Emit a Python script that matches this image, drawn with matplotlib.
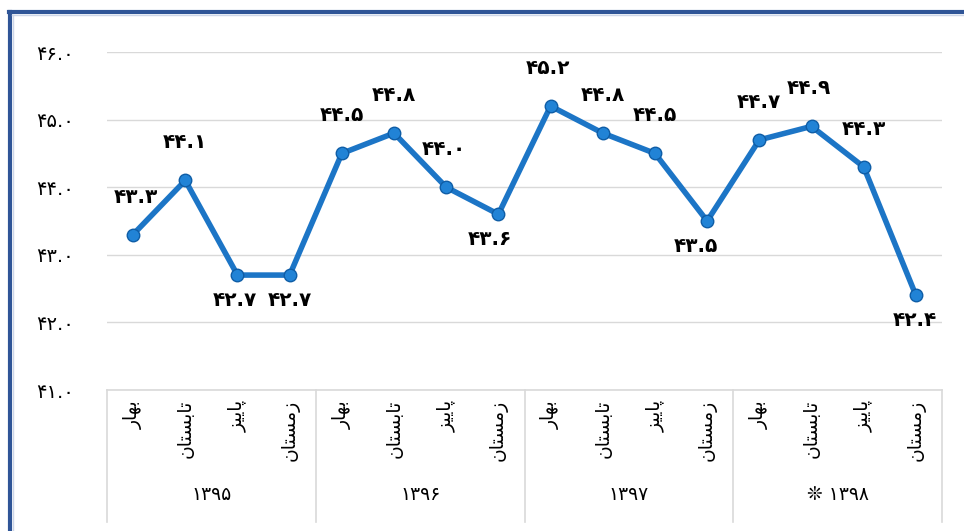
import matplotlib
matplotlib.use("Agg")
import matplotlib.pyplot as plt
from matplotlib.lines import Line2D

# data
seasons = ["بهار", "تابستان", "پاییز", "زمستان"]
years = ["۱۳۹۵", "۱۳۹۶", "۱۳۹۷", "❊ ۱۳۹۸"]
values = [43.3, 44.1, 42.7, 42.7,
          44.5, 44.8, 44.0, 43.6,
          45.2, 44.8, 44.5, 43.5,
          44.7, 44.9, 44.3, 42.4]
yticks = [41, 42, 43, 44, 45, 46]

# label placement: 1 = above the point, -1 = below
label_side = [1, 1, -1, -1, 1, 1, 1, -1, 1, 1, 1, -1, 1, 1, 1, -1]
label_dx = [2, 0, -2, 0, 0, 0, -2, -6, -2, 0, 0, -8, 0, -2, 0, -1]

# --- tiny Persian shaper (matplotlib has no text shaping / bidi) ---
FORMS = {  # isolated, final, initial, medial
    "ا": ("\uFE8D", "\uFE8E", None, None),
    "ب": ("\uFE8F", "\uFE90", "\uFE91", "\uFE92"),
    "پ": ("\uFB56", "\uFB57", "\uFB58", "\uFB59"),
    "ت": ("\uFE95", "\uFE96", "\uFE97", "\uFE98"),
    "ر": ("\uFEAD", "\uFEAE", None, None),
    "ز": ("\uFEAF", "\uFEB0", None, None),
    "س": ("\uFEB1", "\uFEB2", "\uFEB3", "\uFEB4"),
    "م": ("\uFEE1", "\uFEE2", "\uFEE3", "\uFEE4"),
    "ن": ("\uFEE5", "\uFEE6", "\uFEE7", "\uFEE8"),
    "ه": ("\uFEE9", "\uFEEA", "\uFEEB", "\uFEEC"),
    "ی": ("\uFBFC", "\uFBFD", "\uFBFE", "\uFBFF"),
}


def joins_next(ch):
    return ch in FORMS and FORMS[ch][2] is not None


def shape(word):
    out = []
    for i, ch in enumerate(word):
        if ch not in FORMS:
            out.append(ch)
            continue
        prev = i > 0 and joins_next(word[i - 1])
        nxt = i < len(word) - 1 and word[i + 1] in FORMS and joins_next(ch)
        iso, fin, ini, med = FORMS[ch]
        if prev and nxt:
            out.append(med)
        elif prev:
            out.append(fin)
        elif nxt:
            out.append(ini)
        else:
            out.append(iso)
    return "".join(reversed(out))


FA_DIGITS = str.maketrans("0123456789", "۰۱۲۳۴۵۶۷۸۹")


def fa(v):
    return f"{v:.1f}".translate(FA_DIGITS)


plt.rcParams["font.family"] = ["DejaVu Sans"]

fig = plt.figure(figsize=(9.64, 5.31), dpi=100)
ax = fig.add_axes([107 / 964, 1 - 390 / 531, (942 - 107) / 964, (390 - 52) / 531])

x = list(range(len(values)))
ax.plot(x, values, color="#1c75c6", lw=4, marker="o", ms=9,
        mfc="#2183d6", mec="#0f5da6", mew=1.0, zorder=3, solid_joinstyle="round")

for i, v in enumerate(values):
    dy = 27 if label_side[i] > 0 else -18
    ax.annotate(fa(v), (i, v), xytext=(label_dx[i], dy), textcoords="offset points",
                ha="center", va="center", fontsize=14.5, fontweight="bold", color="black")

ax.set_xlim(-0.5, len(values) - 0.5)
ax.set_ylim(41, 46)
ax.set_yticks(yticks)
ax.set_yticklabels([fa(t) for t in yticks], fontsize=14)
ax.tick_params(axis="y", length=0, pad=24)
ax.set_xticks([])
for s in ax.spines.values():
    s.set_visible(False)
ax.grid(axis="y", color="#d9d9d9", lw=1)
ax.set_axisbelow(True)

# category table below the plot
grid_c = "#d9d9d9"
ax.plot([-0.5, len(values) - 0.5], [0, 0], transform=ax.get_xaxis_transform(),
        color=grid_c, lw=1.2, clip_on=False)
bottom = (390 - 522) / 338
for k in range(len(years) + 1):
    xb = k * len(seasons) - 0.5
    ax.plot([xb, xb], [0, bottom], transform=ax.get_xaxis_transform(),
            color=grid_c, lw=1.2, clip_on=False)

for gi, yr in enumerate(years):
    for si, s in enumerate(seasons):
        ax.text(gi * len(seasons) + si, -0.03, shape(s), rotation=90,
                transform=ax.get_xaxis_transform(), ha="center", va="top",
                fontsize=13.5)
    ax.text(gi * len(seasons) + 1.5, -0.31, yr,
            transform=ax.get_xaxis_transform(), ha="center", va="center", fontsize=13.5)

# blue frame (left and top edges visible)
frame_c = "#2f5597"
fig.add_artist(Line2D([10 / 964, 10 / 964], [0, 1 - 12 / 531], color=frame_c, lw=3,
                      transform=fig.transFigure))
fig.add_artist(Line2D([8.5 / 964, 1], [1 - 12 / 531, 1 - 12 / 531], color=frame_c, lw=3,
                      transform=fig.transFigure))
fig.add_artist(Line2D([13 / 964, 13 / 964], [0, 1 - 15 / 531], color="#cdd6e8", lw=1,
                      transform=fig.transFigure))
fig.add_artist(Line2D([12 / 964, 1], [1 - 15 / 531, 1 - 15 / 531], color="#cdd6e8", lw=1,
                      transform=fig.transFigure))

fig.savefig("out.png", dpi=100, facecolor="white")
